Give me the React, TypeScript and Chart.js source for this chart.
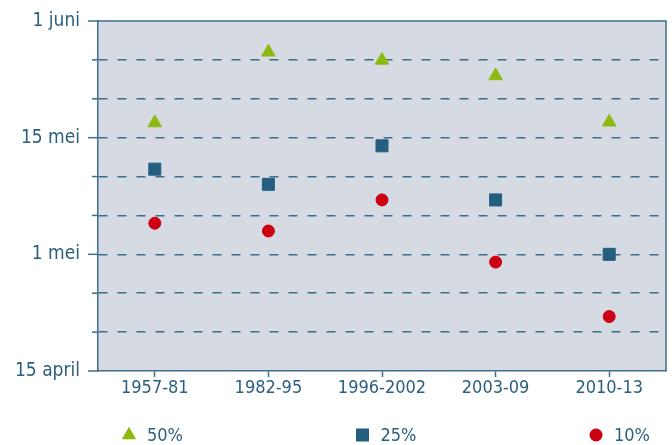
import React, { useEffect, useRef } from 'react';
import { Chart, registerables } from 'chart.js';

Chart.register(...registerables);

const categories = ['1957-81', '1982-95', '1996-2002', '2003-09', '2010-13'];
const seriesLabels = ['50%', '25%', '10%'];
const p50 = [6.38, 8.2, 7.99, 7.59, 6.4];
const p25 = [5.19, 4.8, 5.79, 4.4, 3.0];
const p10 = [3.8, 3.6, 4.4, 2.8, 1.4];
const yTickValues = [0, 3, 6, 9];
const yTickLabels = ['15 april', '1 mei', '15 mei', '1 juni'];

const TEXT = '#2c5f7e';
const LINE = '#3d6d89';
const BG = '#d6dbe3';
const GREEN = '#8cba10';
const BLUE = '#255f80';
const RED = '#cc0012';
const FONT = "'DejaVu Sans Condensed', 'DejaVu Sans', sans-serif";

const bgPlugin = {
  id: 'bgPlugin',
  beforeDraw(chart: any) {
    const { ctx, chartArea: a } = chart;
    ctx.save();
    ctx.fillStyle = BG;
    ctx.fillRect(a.left, a.top, a.right - a.left, a.bottom - a.top);
    ctx.restore();
  },
};

const framePlugin = {
  id: 'framePlugin',
  afterDraw(chart: any) {
    const { ctx, chartArea: a } = chart;
    const y = chart.scales.y;
    ctx.save();
    ctx.strokeStyle = LINE;
    ctx.lineWidth = 1.5;
    ctx.beginPath();
    ctx.moveTo(a.left, a.top);
    ctx.lineTo(a.right, a.top);
    ctx.lineTo(a.right, a.bottom);
    ctx.stroke();
    for (let v = y.min; v <= y.max; v++) {
      const py = y.getPixelForValue(v);
      const len = yTickValues.includes(v) ? 10 : 6;
      ctx.beginPath();
      ctx.moveTo(a.left - len, py);
      ctx.lineTo(a.left, py);
      ctx.stroke();
    }
    ctx.restore();
  },
};

function drawMarker(ctx: CanvasRenderingContext2D, style: string, x: number, y: number, color: string) {
  ctx.fillStyle = color;
  ctx.beginPath();
  if (style === 'triangle') {
    const r = 8.3;
    for (let k = 0; k < 3; k++) {
      const ang = (k * 2 * Math.PI) / 3;
      const px = x + Math.sin(ang) * r;
      const py = y - Math.cos(ang) * r;
      if (k === 0) ctx.moveTo(px, py); else ctx.lineTo(px, py);
    }
    ctx.closePath();
  } else if (style === 'rect') {
    ctx.rect(x - 6.5, y - 6.5, 13, 13);
  } else {
    ctx.arc(x, y, 6.5, 0, Math.PI * 2);
  }
  ctx.fill();
}

const legendPlugin = {
  id: 'customLegend',
  afterDraw(chart: any) {
    const { ctx, chartArea: a } = chart;
    const y = a.bottom + 64;
    ctx.save();
    ctx.font = `18px ${FONT}`;
    ctx.textBaseline = 'middle';
    ctx.textAlign = 'left';
    chart.data.datasets.forEach((ds: any, i: number) => {
      const x = a.left + 31 + i * 233.5;
      drawMarker(ctx, ds.pointStyle, x, y, ds.backgroundColor);
      ctx.fillStyle = TEXT;
      ctx.fillText(ds.label, x + 18, y + 1);
    });
    ctx.restore();
  },
};

export default function App() {
  const ref = useRef<HTMLCanvasElement | null>(null);
  useEffect(() => {
    if (!ref.current) return;
    const chart = new Chart(ref.current, {
      type: 'line',
      data: {
        labels: categories,
        datasets: [
          { label: seriesLabels[0], data: p50, showLine: false, pointStyle: 'triangle', pointRadius: 7.8, pointBorderWidth: 1, backgroundColor: GREEN, borderColor: GREEN },
          { label: seriesLabels[1], data: p25, showLine: false, pointStyle: 'rect', pointRadius: 8.5, pointBorderWidth: 1, backgroundColor: BLUE, borderColor: BLUE },
          { label: seriesLabels[2], data: p10, showLine: false, pointStyle: 'circle', pointRadius: 6, pointBorderWidth: 1, backgroundColor: RED, borderColor: RED },
        ],
      },
      options: {
        responsive: false,
        animation: false,
        devicePixelRatio: 1,
        events: [],
        layout: { autoPadding: false, padding: { left: 0, right: 6, top: 21, bottom: 44 } },
        plugins: { legend: { display: false }, tooltip: { enabled: false } },
        scales: {
          x: {
            offset: true,
            afterFit: (s: any) => { s.height = 30; s.paddingLeft = 0; s.paddingRight = 0; s.paddingTop = 0; s.paddingBottom = 0; },
            grid: { offset: false, drawOnChartArea: false, drawTicks: true, tickLength: 6, tickColor: LINE, tickWidth: 1.5 },
            border: { display: true, color: LINE, width: 1.5 },
            ticks: { color: TEXT, font: { family: FONT, size: 18 }, padding: 1, maxRotation: 0, autoSkip: false },
          },
          y: {
            min: 0,
            max: 9,
            afterFit: (s: any) => { s.width = 98; s.paddingLeft = 0; s.paddingRight = 0; s.paddingTop = 0; s.paddingBottom = 0; },
            grid: {
              drawTicks: false,
              lineWidth: 1.5,
              color: (c: any) => (c.tick && c.tick.value > 0 && c.tick.value < 9 ? LINE : 'rgba(0,0,0,0)'),
            },
            border: { display: true, color: LINE, width: 1.5, dash: [9, 10] },
            ticks: {
              stepSize: 1,
              padding: 18,
              color: TEXT,
              font: { family: FONT, size: 19 },
              autoSkip: false,
              callback: (v: any) => {
                const idx = yTickValues.indexOf(Number(v));
                return idx >= 0 ? yTickLabels[idx] : '';
              },
            },
          },
        },
      },
      plugins: [bgPlugin, framePlugin, legendPlugin],
    });
    return () => chart.destroy();
  }, []);
  return (
    <div style={{ position: 'fixed', left: 0, top: 0, width: 672, height: 445 }}>
      <canvas ref={ref} width={672} height={445} />
    </div>
  );
}
